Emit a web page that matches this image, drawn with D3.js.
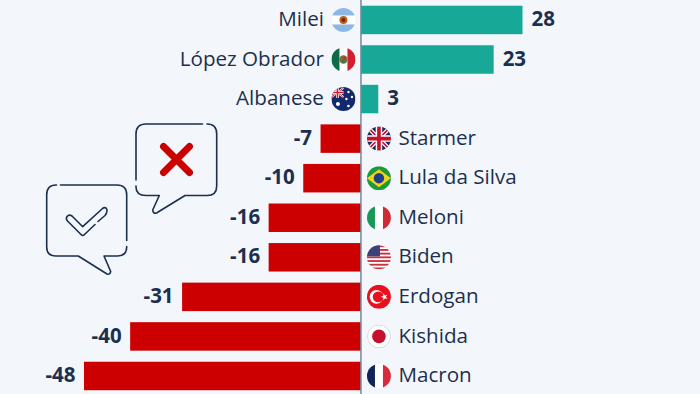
<!DOCTYPE html>
<html lang="en">
<head>
<meta charset="UTF-8">
<title>Leader approval</title>
<script src="https://d3js.org/d3.v7.min.js"></script>
<style>
html, body { margin: 0; padding: 0; background: #f3f7fb; }
svg { display: block; }
text { font-family: "Open Sans", sans-serif; fill: #1c2f4f; }
.name { font-size: 20.6px; }
.value { font-size: 20.5px; font-weight: 700; }
</style>
</head>
<body>
<div class="chart"></div>
<script>
var leaders = ["Milei", "López Obrador", "Albanese", "Starmer", "Lula da Silva", "Meloni", "Biden", "Erdogan", "Kishida", "Macron"];
var values = [28, 23, 3, -7, -10, -16, -16, -31, -40, -48];
var flags = ["ar", "mx", "au", "gb", "br", "it", "us", "tr", "jp", "fr"];

var width = 700, height = 394;
var navy = "#1c2f4f";

var svg = d3.select(".chart").append("svg")
    .attr("width", width)
    .attr("height", height);

var x = d3.scaleLinear().domain([-48, 28]).range([84, 522.5]);
var y = d3.scaleBand().domain(leaders).range([0.16, 395.76]).paddingInner(0.28).paddingOuter(0.14);
var r = 12;

svg.append("defs").append("clipPath").attr("id", "disc")
  .append("circle").attr("r", r);

// bars
svg.selectAll("rect.bar")
    .data(leaders)
  .enter().append("rect")
    .attr("class", "bar")
    .attr("x", (d, i) => Math.min(x(values[i]), x(0)))
    .attr("y", d => y(d))
    .attr("width", (d, i) => Math.abs(x(values[i]) - x(0)))
    .attr("height", y.bandwidth())
    .attr("fill", (d, i) => values[i] > 0 ? "#18a898" : "#cc0000");

// zero line
svg.append("line")
    .attr("x1", x(0)).attr("x2", x(0))
    .attr("y1", 0).attr("y2", height)
    .attr("stroke", "#77889a")
    .attr("stroke-width", 1.5);

var cy = d => y(d) + y.bandwidth() / 2;

// value labels
svg.selectAll("text.value")
    .data(leaders)
  .enter().append("text")
    .attr("class", "value")
    .attr("x", (d, i) => x(values[i]) + (values[i] > 0 ? 9 : -8.5))
    .attr("y", d => cy(d))
    .attr("dy", "0.3em")
    .attr("text-anchor", (d, i) => values[i] > 0 ? "start" : "end")
    .text((d, i) => values[i]);

// names
svg.selectAll("text.name")
    .data(leaders)
  .enter().append("text")
    .attr("class", "name")
    .attr("x", (d, i) => values[i] > 0 ? x(0) - 37 : x(0) + 37.5)
    .attr("y", d => cy(d))
    .attr("dy", "0.3em")
    .attr("text-anchor", (d, i) => values[i] > 0 ? "end" : "start")
    .text(d => d);

// flags
var flagG = svg.selectAll("g.flag")
    .data(leaders)
  .enter().append("g")
    .attr("class", "flag")
    .attr("transform", (d, i) => "translate(" + (values[i] > 0 ? x(0) - 17.5 : x(0) + 18) + "," + cy(d) + ")")
  .append("g")
    .attr("clip-path", "url(#disc)");

function box(g, xx, yy, w, h, c) {
  g.append("rect").attr("x", xx).attr("y", yy).attr("width", w).attr("height", h).attr("fill", c);
}
function dot(g, cx, cy, rad, c) {
  g.append("circle").attr("cx", cx).attr("cy", cy).attr("r", rad).attr("fill", c);
}
function seg(g, d, c, w) {
  g.append("path").attr("d", d).attr("stroke", c).attr("stroke-width", w).attr("fill", "none");
}

var draw = {
  ar: g => {
    box(g, -12, -12, 24, 24, "#fff");
    box(g, -12, -12, 24, 7.5, "#8db8e4");
    box(g, -12, 4.5, 24, 7.5, "#8db8e4");
    dot(g, 0, 0, 4, "#b5651d");
    dot(g, 0, 0, 2, "#8c1c13");
  },
  mx: g => {
    box(g, -12, -12, 24, 24, "#fff");
    box(g, -12, -12, 8, 24, "#0d6b47");
    box(g, 4, -12, 8, 24, "#d0202e");
    dot(g, 0, 0, 4.2, "#8a6a3c");
    dot(g, 0, 1.5, 2.2, "#3d7a4a");
    dot(g, 1, -1.5, 1.2, "#b5303a");
  },
  au: g => {
    box(g, -12, -12, 24, 24, "#14286e");
    seg(g, "M-12,-11L0,-2M0,-11L-12,-2", "#fff", 2);
    seg(g, "M-12,-11L0,-2M0,-11L-12,-2", "#d0202e", 0.9);
    seg(g, "M-6,-12V-1M-12,-6.5H0", "#fff", 3);
    seg(g, "M-6,-12V-1M-12,-6.5H0", "#d0202e", 1.6);
    dot(g, -5.5, 5, 2, "#fff");
    dot(g, 5, -7, 1.2, "#fff");
    dot(g, 8.5, -2, 1.2, "#fff");
    dot(g, 3, 0, 1.2, "#fff");
    dot(g, 5, 7, 1.3, "#fff");
  },
  gb: g => {
    box(g, -12, -12, 24, 24, "#1b2a5e");
    seg(g, "M-12,-12L12,12M12,-12L-12,12", "#fff", 4);
    seg(g, "M-12,-12L12,12M12,-12L-12,12", "#c8102e", 1.6);
    seg(g, "M0,-12V12M-12,0H12", "#fff", 6.5);
    seg(g, "M0,-12V12M-12,0H12", "#c8102e", 3.6);
  },
  br: g => {
    box(g, -12, -12, 24, 24, "#1a9a3c");
    g.append("path").attr("d", "M-12,0L0,-9L12,0L0,9Z").attr("fill", "#f7d117");
    dot(g, 0, 0, 5.2, "#1c3f8c");
  },
  it: g => {
    box(g, -12, -12, 24, 24, "#fff");
    box(g, -12, -12, 8, 24, "#179a58");
    box(g, 4, -12, 8, 24, "#cf2b37");
  },
  us: g => {
    box(g, -12, -12, 24, 24, "#fff");
    d3.range(7).forEach(k => box(g, -12, -12 + k * 3.7, 24, 1.85, "#c8313f"));
    box(g, -12, -12, 13, 11, "#3c3f78");
  },
  tr: g => {
    box(g, -12, -12, 24, 24, "#e8101e");
    dot(g, -2.5, 0, 6.8, "#fff");
    dot(g, -0.8, 0, 5.4, "#e8101e");
    g.append("path").attr("fill", "#fff")
      .attr("d", d3.symbol().type(d3.symbolStar).size(16)())
      .attr("transform", "translate(5.5,0) rotate(-18)");
  },
  jp: g => {
    box(g, -12, -12, 24, 24, "#fff");
    dot(g, 0, 0, 6.8, "#c6102e");
    g.append("circle").attr("r", 11.5).attr("fill", "none").attr("stroke", "#cfd6de").attr("stroke-width", 1);
  },
  fr: g => {
    box(g, -12, -12, 24, 24, "#fff");
    box(g, -12, -12, 8, 24, "#13235b");
    box(g, 4, -12, 8, 24, "#d92c3a");
  }
};
flagG.each(function (d, i) { draw[flags[i]](d3.select(this)); });

// speech bubbles
var bubbles = svg.append("g")
    .attr("fill", "none")
    .attr("stroke", navy)
    .attr("stroke-width", 1.6)
    .attr("stroke-linecap", "round")
    .attr("stroke-linejoin", "round");

// back bubble with the cross
bubbles.append("path").attr("d",
  "M202.500,124H146Q136,124 136,134V180" +
  "M136,186V187Q136,195.500 146,195.500H159.300L152.700,210Q153,214 156.500,213L185,195.500H207Q216.700,195.500 216.700,186V134Q216.700,124 207,124");
svg.append("path")
    .attr("d", "M163.500,146.500L189.500,172.500M189.500,146.500L163.500,172.500")
    .attr("stroke", "#cc0000")
    .attr("stroke-width", 7)
    .attr("stroke-linecap", "round")
    .attr("fill", "none");

// front bubble with the tick
bubbles.append("path").attr("d",
  "M60.500,185H117Q126.700,185 126.700,195V240.500" +
  "M126.700,246.500V247Q126.700,256 117,256H104L110.700,271.500Q110,275 107,274L78.300,256H56Q46.700,256 46.700,247V195Q46.700,185 56,185H56.500");
bubbles.append("path").attr("d",
  "M98,221.500L105,215.500Q108.500,211 106,208Q104.500,207 102.500,208.500L82.700,226.700L72,216Q69,214 67,216.500Q65.500,219 67.500,221L81,234.500Q82.700,236.500 84.500,234.500L95,224.500");
</script>
</body>
</html>
